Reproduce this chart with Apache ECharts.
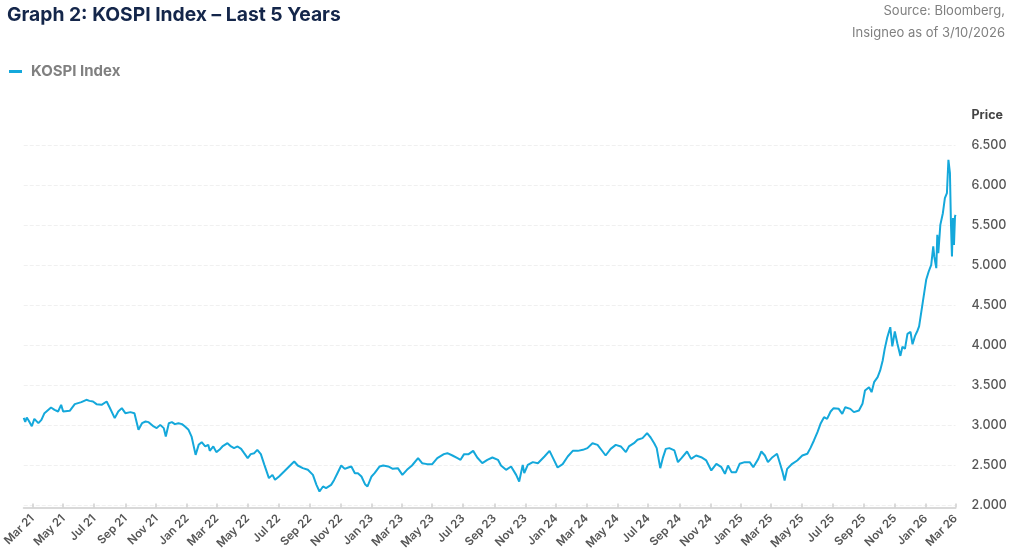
<!DOCTYPE html>
<html>
<head>
<meta charset="utf-8">
<script src="https://cdn.jsdelivr.net/npm/echarts@6/dist/echarts.min.js"></script>
<style>
html,body{margin:0;padding:0;background:#fff;}
#chart{width:1011px;height:559px;}
</style>
</head>
<body>
<div id="chart"></div>
<script>
// ---- data ----
const titleText = 'Graph 2: KOSPI Index \u2013 Last 5 Years';
const sourceLines = ['Source: Bloomberg,', 'Insigneo as of 3/10/2026'];
const seriesName = 'KOSPI Index';
const yAxisName = 'Price';
const monthNames = ['Jan','Feb','Mar','Apr','May','Jun','Jul','Aug','Sep','Oct','Nov','Dec'];
const tickDates = ['2021-03-01','2021-05-01','2021-07-01','2021-09-01','2021-11-01',
  '2022-01-01','2022-03-01','2022-05-01','2022-07-01','2022-09-01','2022-11-01',
  '2023-01-01','2023-03-01','2023-05-01','2023-07-01','2023-09-01','2023-11-01',
  '2024-01-01','2024-03-01','2024-05-01','2024-07-01','2024-09-01','2024-11-01',
  '2025-01-01','2025-03-01','2025-05-01','2025-07-01','2025-09-01','2025-11-01',
  '2026-01-01','2026-03-01'];
const dates = [
'2021-02-12','2021-02-15','2021-02-18','2021-02-22','2021-02-28','2021-03-05','2021-03-13','2021-03-19','2021-03-25','2021-04-07',
'2021-04-14','2021-04-21','2021-04-27','2021-05-01','2021-05-04','2021-05-14','2021-05-24','2021-06-06','2021-06-16','2021-06-22',
'2021-06-29','2021-07-06','2021-07-16','2021-07-26','2021-08-01','2021-08-11','2021-08-18','2021-08-25','2021-09-01','2021-09-11',
'2021-09-19','2021-09-27','2021-10-04','2021-10-11','2021-10-17','2021-10-27','2021-11-02','2021-11-09','2021-11-16','2021-11-20',
'2021-11-26','2021-12-02','2021-12-08','2021-12-15','2021-12-22','2021-12-28','2022-01-04','2022-01-10','2022-01-18','2022-01-24',
'2022-01-30','2022-02-06','2022-02-12','2022-02-15','2022-02-22','2022-02-28','2022-03-06','2022-03-12','2022-03-22','2022-03-29',
'2022-04-04','2022-04-11','2022-04-18','2022-04-24','2022-05-01','2022-05-07','2022-05-14','2022-05-20','2022-05-27','2022-06-03',
'2022-06-12','2022-06-19','2022-06-24','2022-07-02','2022-07-12','2022-07-22','2022-08-01','2022-08-08','2022-08-18','2022-08-28',
'2022-09-07','2022-09-14','2022-09-20','2022-09-27','2022-10-03','2022-10-13','2022-10-19','2022-10-26','2022-11-02','2022-11-09',
'2022-11-16','2022-11-22','2022-11-29','2022-12-05','2022-12-12','2022-12-19','2022-12-24','2023-01-01','2023-01-07','2023-01-17',
'2023-01-24','2023-02-03','2023-02-12','2023-02-22','2023-03-03','2023-03-12','2023-03-22','2023-04-03','2023-04-11','2023-04-21',
'2023-05-01','2023-05-11','2023-05-24','2023-05-31','2023-06-10','2023-06-20','2023-06-26','2023-07-03','2023-07-12','2023-07-21',
'2023-07-29','2023-08-08','2023-08-18','2023-08-28','2023-09-08','2023-09-14','2023-09-24','2023-10-04','2023-10-14','2023-10-20',
'2023-10-27','2023-10-30','2023-11-06','2023-11-16','2023-11-26','2023-12-09','2023-12-19','2023-12-26','2024-01-04','2024-01-14',
'2024-01-24','2024-02-03','2024-02-13','2024-02-23','2024-03-03','2024-03-13','2024-03-23','2024-04-02','2024-04-08','2024-04-18',
'2024-04-28','2024-05-08','2024-05-18','2024-05-24','2024-06-03','2024-06-10','2024-06-20','2024-06-29','2024-07-06','2024-07-13',
'2024-07-18','2024-07-25','2024-07-30','2024-08-05','2024-08-12','2024-08-22','2024-08-29','2024-09-05','2024-09-16','2024-09-24',
'2024-10-04','2024-10-14','2024-10-24','2024-11-03','2024-11-13','2024-11-23','2024-11-30','2024-12-06','2024-12-13','2024-12-22',
'2024-12-29','2025-01-08','2025-01-18','2025-01-25','2025-02-04','2025-02-10','2025-02-17','2025-02-23','2025-03-04','2025-03-13',
'2025-03-19','2025-03-24','2025-03-28','2025-04-02','2025-04-12','2025-04-22','2025-05-02','2025-05-12','2025-05-18','2025-05-25',
'2025-06-01','2025-06-07','2025-06-14','2025-06-20','2025-06-27','2025-07-03','2025-07-13','2025-07-20','2025-07-26','2025-08-05',
'2025-08-12','2025-08-22','2025-08-29','2025-09-03','2025-09-11','2025-09-16','2025-09-21','2025-09-28','2025-10-03','2025-10-08',
'2025-10-12','2025-10-17','2025-10-23','2025-10-27','2025-11-01','2025-11-06','2025-11-12','2025-11-16','2025-11-21','2025-11-26',
'2025-12-02','2025-12-06','2025-12-11','2025-12-16','2025-12-19','2025-12-26','2026-01-02','2026-01-07','2026-01-12','2026-01-16',
'2026-01-18','2026-01-22','2026-01-24','2026-01-26','2026-01-30','2026-02-04','2026-02-08','2026-02-12','2026-02-15','2026-02-18',
'2026-02-20','2026-02-22','2026-02-24','2026-02-26','2026-02-28','2026-03-01'];
const kospi = [
3095,3045,3100,3060,2990,3083,3030,3071,3154,3225,
3196,3175,3258,3175,3196,3183,3267,3292,3321,3308,
3300,3267,3258,3300,3225,3092,3175,3217,3154,3167,
3154,2946,3029,3050,3042,2988,2967,3008,2967,2862,
3029,3042,3017,3029,3017,2988,2946,2862,2633,2758,
2792,2738,2758,2683,2738,2667,2696,2738,2779,2738,
2717,2738,2708,2654,2592,2642,2654,2696,2642,2508,
2342,2383,2321,2363,2425,2488,2550,2500,2467,2446,
2383,2258,2175,2238,2217,2258,2320,2410,2500,2458,
2475,2488,2404,2404,2363,2267,2238,2363,2404,2488,
2500,2488,2458,2467,2383,2446,2500,2592,2529,2517,
2517,2592,2642,2654,2625,2592,2571,2642,2642,2683,
2600,2529,2571,2600,2571,2500,2446,2488,2383,2300,
2508,2404,2508,2542,2529,2613,2683,2592,2475,2517,
2613,2683,2683,2696,2717,2779,2758,2675,2625,2708,
2758,2738,2667,2738,2779,2821,2842,2904,2850,2779,
2717,2467,2592,2708,2717,2688,2542,2592,2675,2583,
2625,2604,2563,2438,2521,2479,2396,2500,2417,2417,
2521,2542,2542,2479,2583,2675,2625,2542,2604,2646,
2521,2417,2313,2458,2521,2563,2625,2646,2717,2813,
2917,3021,3104,3083,3175,3217,3208,3146,3229,3208,
3167,3188,3271,3438,3479,3417,3542,3604,3688,3813,
3958,4100,4229,3990,4175,4025,3870,3985,3958,4146,
4170,4015,4120,4188,4238,4529,4821,4925,5008,5238,
5113,4967,5383,5154,5508,5654,5842,5904,6321,6154,
5529,5113,5592,5258,5613,5633];
const yMin = 2000, yMax = 6500, yStep = 500;
const axisStart = '2021-02-12', axisEnd = '2026-03-01';

// ---- helpers ----
function ts(s){ const p = s.split('-').map(Number); return new Date(p[0], p[1]-1, p[2]).getTime(); }
function monthLabel(v){ const d = new Date(v); return monthNames[d.getMonth()] + ' ' + String(d.getFullYear()).slice(2); }
function dotThousands(v){ return String(v).replace(/\B(?=(\d{3})+(?!\d))/g, '.'); }

const seriesData = dates.map((d, i) => [ts(d), kospi[i]]);
const tickValues = tickDates.map(ts);
const lineColor = '#14a8db';
const FONT = 'Inter, "Noto Sans", sans-serif';
const srcStyle = {fontFamily: FONT, fontSize: 13, fontWeight: 'normal', color: '#808080'};

const chart = echarts.init(document.getElementById('chart'), null, {renderer: 'canvas'});
chart.setOption({
  animation: false,
  backgroundColor: '#ffffff',
  textStyle: {fontFamily: FONT},
  title: [
    {text: titleText, left: 7, top: 6, padding: [0,0,0,0],
     textStyle: {fontFamily: FONT, fontSize: 19.3, fontWeight: 'bold', color: '#14264a'}},
    {text: sourceLines[0], right: 6, top: 5, padding: 0, textStyle: srcStyle},
    {text: sourceLines[1], right: 6, top: 27, padding: 0, textStyle: srcStyle}
  ],
  legend: {
    left: 9, top: 64, padding: 0, icon: 'rect', itemWidth: 13, itemHeight: 3,
    data: [seriesName],
    textStyle: {fontFamily: FONT, fontSize: 15, fontWeight: 'bold', color: '#808080', padding: [0,0,0,4]}
  },
  grid: {left: 22.7, right: 55.5, top: 145.5, bottom: 53.5, containLabel: false},
  xAxis: {
    type: 'value',
    min: ts(axisStart), max: ts(axisEnd),
    offset: 2,
    axisLine: {show: true, lineStyle: {color: '#d9d9d9', width: 2}},
    axisTick: {show: true, inside: true, length: 4, lineStyle: {color: '#d0d0d0', width: 1.5}, customValues: tickValues},
    axisLabel: {
      show: true, rotate: 45, margin: 9, customValues: tickValues,
      fontFamily: FONT, fontSize: 11.5, fontWeight: 600, color: '#555555',
      formatter: function(v){ return monthLabel(v); }
    },
    splitLine: {show: false}
  },
  yAxis: {
    type: 'value', position: 'right',
    min: yMin, max: yMax, interval: yStep,
    name: yAxisName, nameLocation: 'end', nameGap: 24,
    nameTextStyle: {fontFamily: FONT, fontSize: 12.5, fontWeight: 'bold', color: '#444444', align: 'left', padding: [0,0,0,16]},
    axisLine: {show: false}, axisTick: {show: false},
    axisLabel: {margin: 16, fontFamily: FONT, fontSize: 12.5, fontWeight: 500, color: '#555555',
      formatter: function(v){ return dotThousands(v); }},
    splitLine: {show: true, lineStyle: {color: '#f0f0f0', type: 'dashed', width: 1}}
  },
  series: [{
    name: seriesName, type: 'line', data: seriesData,
    showSymbol: false, symbol: 'none', clip: true,
    lineStyle: {color: lineColor, width: 2},
    itemStyle: {color: lineColor}
  }]
});
</script>
</body>
</html>
